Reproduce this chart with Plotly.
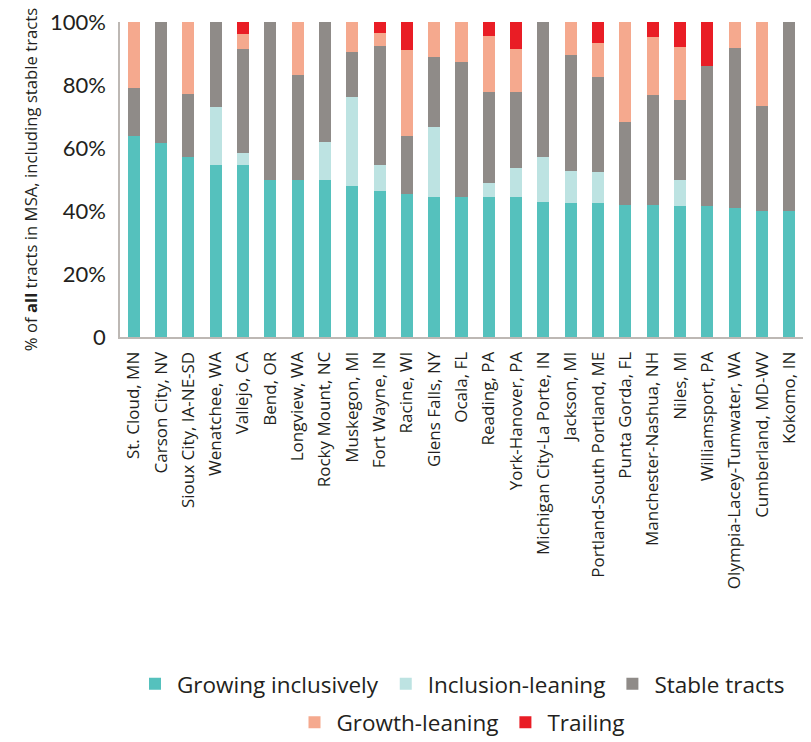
import plotly.graph_objects as go

# Metro areas, ordered by share of tracts growing inclusively
msas = [
    "St. Cloud, MN", "Carson City, NV", "Sioux City, IA-NE-SD", "Wenatchee, WA",
    "Vallejo, CA", "Bend, OR", "Longview, WA", "Rocky Mount, NC", "Muskegon, MI",
    "Fort Wayne, IN", "Racine, WI", "Glens Falls, NY", "Ocala, FL", "Reading, PA",
    "York-Hanover, PA", "Michigan City-La Porte, IN", "Jackson, MI",
    "Portland-South Portland, ME", "Punta Gorda, FL", "Manchester-Nashua, NH",
    "Niles, MI", "Williamsport, PA", "Olympia-Lacey-Tumwater, WA",
    "Cumberland, MD-WV", "Kokomo, IN",
]

# Share of all tracts in each category (percent)
growing_inclusively = [63.7, 61.7, 57.0, 54.5, 54.5, 50.0, 50.0, 50.0, 47.8, 46.5,
                       45.5, 44.6, 44.6, 44.6, 44.3, 43.0, 42.4, 42.4, 42.0, 42.0,
                       41.7, 41.7, 41.1, 40.1, 40.1]
inclusion_leaning = [0.0, 0.0, 0.0, 18.4, 3.8, 0.0, 0.0, 12.0, 28.3, 8.0,
                     0.0, 22.0, 0.0, 4.4, 9.2, 14.0, 10.4, 10.1, 0.0, 0.0,
                     8.3, 0.0, 0.0, 0.0, 0.0]
stable_tracts = [15.2, 38.3, 20.3, 27.1, 33.0, 50.0, 33.3, 38.0, 14.3, 37.9,
                 18.2, 22.3, 42.7, 28.7, 24.2, 43.0, 36.7, 30.0, 26.2, 34.8,
                 25.2, 44.3, 50.6, 33.1, 59.9]
growth_leaning = [21.1, 0.0, 22.7, 0.0, 4.8, 0.0, 16.7, 0.0, 9.6, 4.1,
                  27.4, 11.1, 12.7, 17.8, 13.7, 0.0, 10.5, 10.8, 31.8, 18.4,
                  16.8, 0.0, 8.3, 26.8, 0.0]
trailing = [0.0, 0.0, 0.0, 0.0, 3.9, 0.0, 0.0, 0.0, 0.0, 3.5,
            8.9, 0.0, 0.0, 4.5, 8.6, 0.0, 0.0, 6.7, 0.0, 4.8,
            8.0, 14.0, 0.0, 0.0, 0.0]

y_tick_vals = [0, 20, 40, 60, 80, 100]
y_tick_text = ["0", "20%", "40%", "60%", "80%", "100%"]

series = [
    ("Growing inclusively", growing_inclusively, "#55C1BD", "legend"),
    ("Inclusion-leaning", inclusion_leaning, "#BDE3E2", "legend"),
    ("Stable tracts", stable_tracts, "#8F8B88", "legend"),
    ("Growth-leaning", growth_leaning, "#F5A98E", "legend2"),
    ("Trailing", trailing, "#E91D25", "legend2"),
]

FONT = "'Open Sans', Lato, sans-serif"
NUM_FONT = "Lato, 'Open Sans', sans-serif"
TEXT = "#231F20"

fig = go.Figure()
for name, vals, color, leg in series:
    fig.add_trace(go.Bar(
        x=msas, y=vals, name=name, marker_color=color,
        marker_line_width=0, legend=leg,
        hovertemplate="%{x}<br>" + name + ": %{y:.1f}%<extra></extra>",
    ))

legend_style = dict(
    orientation="h", xanchor="center", x=0.5, yanchor="middle",
    yref="container", font=dict(family=FONT, size=22.5, color=TEXT),
    bgcolor="rgba(0,0,0,0)", itemsizing="constant", traceorder="normal",
    itemwidth=34,
)

fig.update_layout(
    barmode="stack",
    bargap=0.56,
    width=811, height=742,
    margin=dict(l=120, r=8, t=22, b=405),
    paper_bgcolor="white", plot_bgcolor="white",
    font=dict(family=FONT, color=TEXT),
    legend=dict(legend_style, y=0.078),
    legend2=dict(legend_style, y=0.026),
    xaxis=dict(
        tickangle=-90, tickfont=dict(family=FONT, size=17, color=TEXT),
        showline=True, linecolor="#BDB8B4", linewidth=2,
        ticks="", showgrid=False, ticklabelstandoff=6,
    ),
    yaxis=dict(
        range=[0, 100], tickvals=y_tick_vals, ticktext=y_tick_text,
        tickfont=dict(family=NUM_FONT, size=22, color=TEXT),
        showline=True, linecolor="#BDB8B4", linewidth=1.5,
        ticks="", showgrid=False, zeroline=False, ticklabelstandoff=8,
        title=dict(text="% of <b>all</b> tracts in MSA, including stable tracts",
                   font=dict(family=FONT, size=16.7, color=TEXT), standoff=8),
    ),
)

fig.write_html("out.html")
